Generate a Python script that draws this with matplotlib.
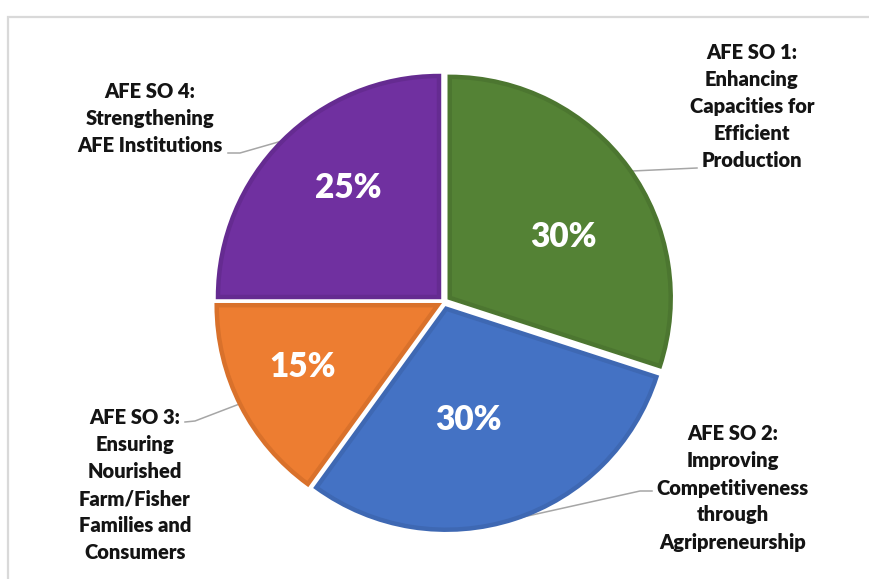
import numpy as np
import matplotlib.pyplot as plt
from matplotlib.patches import Rectangle

plt.rcParams["font.family"] = ["Lato", "DejaVu Sans"]

# slice data, clockwise from 12 o'clock
labels = [
    "AFE SO 1:\nEnhancing\nCapacities for\nEfficient\nProduction",
    "AFE SO 2:\nImproving\nCompetitiveness\nthrough\nAgripreneurship",
    "AFE SO 3:\nEnsuring\nNourished\nFarm/Fisher\nFamilies and\nConsumers",
    "AFE SO 4:\nStrengthening\nAFE Institutions",
]
shares = [30, 30, 15, 25]
face_colors = ["#548235", "#4472C4", "#ED7D31", "#7030A0"]
edge_colors = ["#4C7630", "#3E68B3", "#D9712B", "#652B91"]

W, H = 870, 579
fig = plt.figure(figsize=(W / 100, H / 100), dpi=100)
ax = fig.add_axes([0, 0, 1, 1])

center = (444, H - 302)
radius = 221
wedges, _, autotexts = ax.pie(
    shares,
    colors=face_colors,
    startangle=90,
    counterclock=False,
    center=center,
    radius=radius,
    explode=[0.032 * radius] * len(shares),  # pie offsets are in data units
    autopct=lambda p: f"{p:.0f}%",
    pctdistance=0.6,
    wedgeprops=dict(linewidth=3.2),
    textprops=dict(color="white", fontsize=24, fontweight="heavy"),
)
for w, ec in zip(wedges, edge_colors):
    w.set_edgecolor(ec)

# percentage label placement (image px)
pct_pos = [(563, 237), (468, 420), (303, 367), (348, 188)]
for t, (x, y) in zip(autotexts, pct_pos):
    t.set_position((x, H - y))
    t.set_ha("center")
    t.set_va("center")

# outer labels: text centre, leader angle on the wedge rim, leader path to text
text_pos = [(752, 106), (733, 488), (135, 485), (150, 118)]
rim_angles = [35, -72, 206.5, 135]
leader_ends = [
    [(697, 168)],
    [(640, 491), (652, 491)],
    [(195, 421), (185, 422)],
    [(240, 153), (228, 153)],
]
for w, lab, (tx, ty), ang, ends in zip(wedges, labels, text_pos, rim_angles, leader_ends):
    cx, cy = w.center
    a = np.deg2rad(ang)
    rim = (cx + w.r * np.cos(a), cy + w.r * np.sin(a))
    xs = [rim[0]] + [p[0] for p in ends]
    ys = [rim[1]] + [H - p[1] for p in ends]
    ax.plot(xs, ys, color="#A6A6A6", lw=1.1, zorder=0)
    ax.text(tx, H - ty, lab, ha="center", va="center", fontsize=14.5,
            fontweight="heavy", color="#141414", linespacing=1.5)

# chart frame (cropped on right and bottom)
ax.add_patch(Rectangle((8, -20), W + 20, H - 17 + 20, fill=False,
                       edgecolor="#D9D9D9", lw=1.6, zorder=-1))

ax.set_xlim(0, W)
ax.set_ylim(0, H)
ax.set_aspect("equal")
ax.axis("off")

fig.savefig("out.png", dpi=100)
